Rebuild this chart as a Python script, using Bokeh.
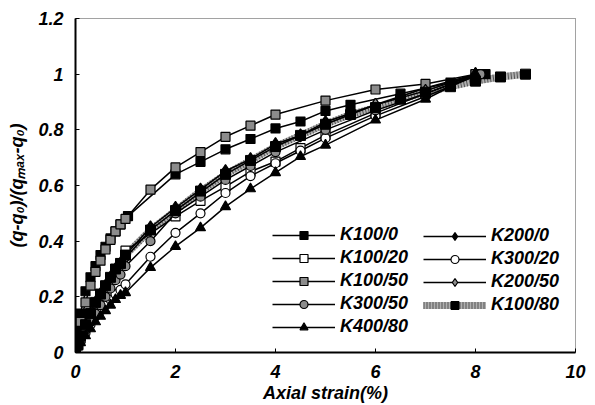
from bokeh.plotting import figure
from bokeh.models import Legend, LegendItem, FixedTicker, CustomJSTickFormatter, Range1d
from bokeh.embed import file_html
from bokeh.resources import INLINE

FONT = "Liberation Sans"

# ---- data ----
x_k100_0 = [0, 0.05, 0.1, 0.2, 0.3, 0.4, 0.5, 0.6, 0.7, 0.8, 0.9, 1.05, 2.0, 2.5, 3.0, 3.5, 4.0, 4.5, 5.0, 5.5, 6.5, 7.5, 8.2]
y_k100_0 = [0, 0.08, 0.14, 0.22, 0.27, 0.31, 0.35, 0.38, 0.41, 0.435, 0.46, 0.49, 0.64, 0.685, 0.73, 0.767, 0.805, 0.83, 0.868, 0.89, 0.93, 0.97, 1.0]

x_k200_0 = [0, 0.05, 0.1, 0.2, 0.3, 0.4, 0.5, 0.6, 0.7, 0.8, 0.9, 1.0, 1.5, 2.0, 2.5, 3.0, 3.5, 4.0, 4.5, 5.0, 6.0, 7.0, 8.0]
y_k200_0 = [0, 0.03, 0.06, 0.10, 0.14, 0.18, 0.21, 0.24, 0.27, 0.30, 0.32, 0.35, 0.45, 0.52, 0.585, 0.652, 0.695, 0.749, 0.78, 0.828, 0.89, 0.95, 1.0]

x_k100_20 = [0, 0.05, 0.1, 0.2, 0.3, 0.4, 0.5, 0.6, 0.7, 0.8, 0.9, 1.0, 2.0, 2.5, 3.0, 3.5, 4.0, 4.5, 5.0, 6.0, 7.0, 8.0]
y_k100_20 = [0, 0.03, 0.05, 0.09, 0.13, 0.17, 0.20, 0.23, 0.26, 0.29, 0.32, 0.366, 0.489, 0.545, 0.596, 0.65, 0.686, 0.734, 0.781, 0.86, 0.93, 1.0]

x_k300_20 = [0, 0.05, 0.1, 0.2, 0.3, 0.4, 0.5, 0.6, 0.7, 0.8, 0.9, 1.0, 1.5, 2.0, 2.5, 3.0, 3.5, 4.0, 4.5, 5.0, 6.0, 7.0, 8.1]
y_k300_20 = [0, 0.02, 0.04, 0.07, 0.10, 0.13, 0.15, 0.17, 0.19, 0.21, 0.225, 0.245, 0.344, 0.43, 0.50, 0.573, 0.634, 0.68, 0.725, 0.77, 0.85, 0.92, 1.0]

x_k100_50 = [0, 0.05, 0.1, 0.2, 0.3, 0.4, 0.5, 0.6, 0.7, 0.8, 0.9, 1.0, 1.5, 2.0, 2.5, 3.0, 3.5, 4.0, 5.0, 6.0, 7.0, 8.0]
y_k100_50 = [0, 0.06, 0.11, 0.18, 0.24, 0.29, 0.33, 0.37, 0.405, 0.435, 0.46, 0.48, 0.585, 0.665, 0.72, 0.775, 0.815, 0.855, 0.905, 0.945, 0.965, 1.0]

x_k200_50 = [0, 0.05, 0.1, 0.2, 0.3, 0.4, 0.5, 0.6, 0.7, 0.8, 0.9, 1.0, 1.5, 2.0, 2.5, 3.0, 3.5, 4.0, 5.0, 6.0, 7.0, 8.0]
y_k200_50 = [0, 0.03, 0.05, 0.09, 0.13, 0.17, 0.20, 0.23, 0.26, 0.29, 0.31, 0.34, 0.44, 0.51, 0.575, 0.64, 0.69, 0.74, 0.82, 0.89, 0.94, 1.0]

x_k300_50 = [0, 0.05, 0.1, 0.2, 0.3, 0.4, 0.5, 0.6, 0.7, 0.8, 0.9, 1.0, 1.5, 2.0, 2.5, 3.0, 3.5, 4.0, 5.0, 6.0, 7.0, 8.1]
y_k300_50 = [0, 0.03, 0.05, 0.08, 0.11, 0.14, 0.17, 0.20, 0.23, 0.26, 0.28, 0.31, 0.40, 0.50, 0.56, 0.62, 0.67, 0.72, 0.80, 0.87, 0.93, 1.0]

x_k100_80 = [0, 0.05, 0.1, 0.2, 0.3, 0.4, 0.5, 0.6, 0.7, 0.8, 0.9, 1.0, 1.5, 2.0, 2.5, 3.0, 3.5, 4.0, 4.5, 5.0, 5.5, 6.0, 6.5, 7.0, 7.5, 8.0, 8.5, 9.0]
y_k100_80 = [0, 0.03, 0.06, 0.10, 0.14, 0.18, 0.21, 0.24, 0.27, 0.30, 0.32, 0.35, 0.44, 0.51, 0.58, 0.64, 0.69, 0.74, 0.78, 0.82, 0.855, 0.88, 0.91, 0.935, 0.955, 0.975, 0.99, 1.0]

x_k400_80 = [0, 0.05, 0.1, 0.2, 0.3, 0.4, 0.5, 0.6, 0.7, 0.8, 0.9, 1.0, 1.5, 2.0, 2.5, 3.0, 3.5, 4.0, 4.5, 5.0, 6.0, 7.0, 8.0]
y_k400_80 = [0, 0.02, 0.035, 0.06, 0.085, 0.11, 0.13, 0.15, 0.17, 0.19, 0.205, 0.215, 0.305, 0.381, 0.448, 0.524, 0.588, 0.646, 0.704, 0.745, 0.835, 0.91, 1.0]

x_ticks = [0, 2, 4, 6, 8, 10]
y_ticks = [0, 0.2, 0.4, 0.6, 0.8, 1.0, 1.2]

p = figure(width=595, height=405, output_backend="svg", toolbar_location=None,
           x_range=Range1d(0, 10), y_range=Range1d(0, 1.2),
           min_border_left=75, min_border_right=20, min_border_top=18, min_border_bottom=52)

p.xgrid.visible = False
p.ygrid.visible = False
p.outline_line_color = "#444444"
p.outline_line_width = 1
p.outline_line_dash = "1 1"

for ax in (p.xaxis[0], p.yaxis[0]):
    ax.axis_line_width = 2
    ax.axis_line_color = "black"
    ax.major_tick_in = 4
    ax.major_tick_out = 0
    ax.minor_tick_in = 0
    ax.minor_tick_out = 0
    ax.major_label_text_font = FONT
    ax.major_label_text_font_size = "18px"
    ax.major_label_text_font_style = "bold italic"
    ax.major_label_text_color = "black"
    ax.axis_label_text_font = FONT
    ax.axis_label_text_font_size = "18px"
    ax.axis_label_text_font_style = "bold italic"
    ax.axis_label_text_color = "black"
    ax.major_label_standoff = 12

p.xaxis.ticker = FixedTicker(ticks=x_ticks)
p.yaxis.ticker = FixedTicker(ticks=y_ticks)
p.yaxis.formatter = CustomJSTickFormatter(code="return (Math.round(tick*10)/10).toString();")
p.xaxis.axis_label = "Axial strain(%)"
p.xaxis.axis_label_standoff = 2
p.yaxis.axis_label = "(q-q\u2080)/(q\u2098\u2090\u2093-q\u2080)"
p.yaxis.axis_label_standoff = 8

LW = 1.5
MS = 9

# K100/80 thick hatched band (drawn first)
b1 = p.line(x_k100_80, y_k100_80, line_color="#b0b0b0", line_width=7)
b2 = p.line(x_k100_80, y_k100_80, line_color="#555555", line_width=7, line_dash="1 2")

series = [
    ("K100/0", x_k100_0, y_k100_0, "square", "black", MS),
    ("K200/0", x_k200_0, y_k200_0, "diamond", "black", MS + 4),
    ("K100/20", x_k100_20, y_k100_20, "square", "white", MS),
    ("K300/20", x_k300_20, y_k300_20, "circle", "white", MS),
    ("K100/50", x_k100_50, y_k100_50, "square", "#8c8c8c", MS),
    ("K200/50", x_k200_50, y_k200_50, "diamond", "#8c8c8c", MS + 4),
    ("K300/50", x_k300_50, y_k300_50, "circle", "#8c8c8c", MS),
    ("K400/80", x_k400_80, y_k400_80, "triangle", "black", MS + 1),
]

rend = {}
for name, xs, ys, mk, fc, sz in series:
    l = p.line(xs, ys, line_color="black", line_width=LW)
    s = p.scatter(xs, ys, marker=mk, size=sz, fill_color=fc, line_color="black", line_width=1.2)
    rend[name] = [l, s]

s80 = p.scatter(x_k100_80, y_k100_80, marker="square", size=MS + 1, fill_color="black", line_color="black")
rend["K100/80"] = [b1, b2, s80]

def mk_legend(names, loc):
    lg = Legend(items=[LegendItem(label=n, renderers=rend[n]) for n in names], location=loc)
    lg.border_line_color = None
    lg.background_fill_alpha = 0
    lg.padding = 0
    lg.margin = 0
    lg.spacing = 2
    lg.glyph_width = 63
    lg.glyph_height = 20
    lg.label_standoff = 5
    lg.label_text_font = FONT
    lg.label_text_font_size = "18px"
    lg.label_text_font_style = "bold italic"
    lg.label_text_color = "black"
    lg.label_height = 20
    return lg

p.add_layout(mk_legend(["K100/0", "K100/20", "K100/50", "K300/50", "K400/80"], (197, 15)))
p.add_layout(mk_legend(["K200/0", "K300/20", "K200/50", "K100/80"], (348, 37)))

open("out.html", "w").write(file_html(p, INLINE))
